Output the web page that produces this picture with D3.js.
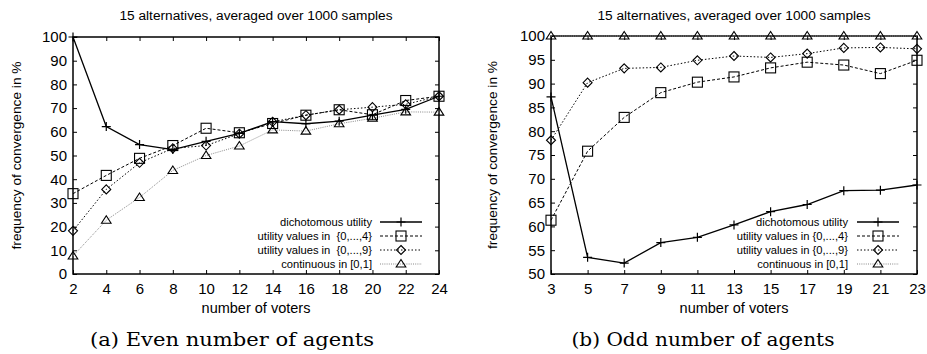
<!DOCTYPE html>
<html>
<head>
<meta charset="utf-8">
<script src="https://cdn.jsdelivr.net/npm/d3@7"></script>
<style>
  body { margin: 0; background: #fff; }
  svg { display: block; }
  .tick text { font-family: "Liberation Sans", Arial, sans-serif; }
</style>
</head>
<body>
<div id="chart"></div>
<script>
// ---- data ----
var evenVoters = [2, 4, 6, 8, 10, 12, 14, 16, 18, 20, 22, 24];
var evenDich  = [100, 62.2, 54.6, 52.5, 56, 59.3, 64.3, 63.4, 64.5, 67, 69.5, 75];
var evenUtil4 = [33.9, 41.6, 48.8, 54.2, 61.5, 59.6, 63.5, 67, 69.3, 67.2, 73.2, 75];
var evenUtil9 = [18.2, 35.7, 46.9, 53, 54.2, 59.2, 64.2, 67, 69.3, 70.4, 71.6, 75];
var evenCont  = [7.6, 22.7, 32.3, 43.7, 50, 54, 60.8, 60.3, 63.4, 65.7, 68.4, 68.3];

var oddVoters = [3, 5, 7, 9, 11, 13, 15, 17, 19, 21, 23];
var oddDich  = [87.2, 53.5, 52.3, 56.6, 57.7, 60.3, 63.1, 64.6, 67.5, 67.6, 68.7];
var oddUtil4 = [61.3, 75.8, 82.9, 88.1, 90.3, 91.4, 93.3, 94.5, 93.9, 92.1, 94.9];
var oddUtil9 = [78.1, 90.2, 93.2, 93.4, 94.9, 95.8, 95.5, 96.3, 97.5, 97.6, 97.3];
var oddCont  = [100, 100, 100, 100, 100, 100, 100, 100, 100, 100, 100];

var evenLegend = ["dichotomous utility", "utility values in  {0,...,4}", "utility values in  {0,...,9}", "continuous in [0,1]"];
var oddLegend  = ["dichotomous utility", "utility values in {0,...,4}", "utility values in {0,...,9}", "continuous in [0,1]"];

var title = "15 alternatives, averaged over 1000 samples";

var W = 927, H = 354;
var svg = d3.select("#chart").append("svg")
  .attr("width", W)
  .attr("height", H);

// line style + marker for each series
var styles = [
  { dash: null,    color: "#000", width: 1.3, marker: "plus" },
  { dash: "3,2",   color: "#000", width: 1,   marker: "square" },
  { dash: "1.5,2", color: "#000", width: 1,   marker: "diamond" },
  { dash: "1,1.2", color: "#888", width: 1,   marker: "triangle" }
];

function drawMarker(g, type, x, y) {
  if (type === "plus") {
    g.append("path").attr("d", "M" + (x - 4.5) + "," + y + "h9M" + x + "," + (y - 4.5) + "v9")
      .attr("stroke", "#000").attr("stroke-width", 1.2).attr("fill", "none");
  } else if (type === "square") {
    g.append("rect").attr("x", x - 5).attr("y", y - 5).attr("width", 10).attr("height", 10)
      .attr("stroke", "#000").attr("stroke-width", 1.1).attr("fill", "none");
  } else if (type === "diamond") {
    g.append("path").attr("d", "M" + x + "," + (y - 4.5) + "l4.5,4.5l-4.5,4.5l-4.5,-4.5z")
      .attr("stroke", "#000").attr("stroke-width", 1.1).attr("fill", "none");
  } else {
    g.append("path").attr("d", "M" + x + "," + (y - 4.5) + "l4.8,7.5h-9.6z")
      .attr("stroke", "#000").attr("stroke-width", 1.1).attr("fill", "none");
  }
}

function drawPanel(opt) {
  var g = svg.append("g");
  var x = d3.scaleLinear().domain(opt.xDomain).range([opt.left, opt.right]);
  var y = d3.scaleLinear().domain(opt.yDomain).range([opt.bottom, opt.top]);

  // title
  g.append("text")
    .attr("x", (opt.left + opt.right) / 2).attr("y", 20)
    .attr("text-anchor", "middle")
    .style("font-family", "Liberation Sans, Arial, sans-serif")
    .style("font-size", "13.7px")
    .text(title);

  // axes (ticks inward)
  var ax = function (axis) {
    return axis.tickSizeInner(-4).tickSizeOuter(0).tickPadding(6);
  };
  var gx = g.append("g").attr("transform", "translate(0," + opt.bottom + ")")
    .call(ax(d3.axisBottom(x).tickValues(opt.xTicks).tickFormat(d3.format("d"))));
  g.append("g").attr("transform", "translate(0," + opt.top + ")")
    .call(d3.axisTop(x).tickValues(opt.xTicks).tickSizeInner(-4).tickSizeOuter(0).tickFormat(""));
  var gy = g.append("g").attr("transform", "translate(" + opt.left + ",0)")
    .call(ax(d3.axisLeft(y).tickValues(opt.yTicks).tickFormat(d3.format("d"))));
  g.append("g").attr("transform", "translate(" + opt.right + ",0)")
    .call(d3.axisRight(y).tickValues(opt.yTicks).tickSizeInner(-4).tickSizeOuter(0).tickFormat(""));
  g.selectAll(".domain").remove();
  g.selectAll(".tick line").attr("stroke", "#000");
  gx.selectAll("text").style("font-size", "15px").attr("dy", "0.95em");
  gy.selectAll("text").style("font-size", "15px");

  // frame
  g.append("rect")
    .attr("x", opt.left).attr("y", opt.top)
    .attr("width", opt.right - opt.left).attr("height", opt.bottom - opt.top)
    .attr("fill", "none").attr("stroke", "#000").attr("stroke-width", 1.5);

  // axis labels
  g.append("text")
    .attr("x", (opt.left + opt.right) / 2).attr("y", 313)
    .attr("text-anchor", "middle")
    .style("font-family", "Liberation Sans, Arial, sans-serif")
    .style("font-size", "14.5px")
    .text("number of voters");
  g.append("text")
    .attr("transform", "translate(" + opt.ylabX + "," + ((opt.top + opt.bottom) / 2) + ") rotate(-90)")
    .attr("text-anchor", "middle")
    .style("font-family", "Liberation Sans, Arial, sans-serif")
    .style("font-size", "13.7px")
    .text("frequency of convergence in %");

  // series
  var line = d3.line()
    .x(function (d) { return x(d[0]); })
    .y(function (d) { return y(d[1]); });
  var order = [3, 2, 1, 0];
  order.forEach(function (i) {
    var s = styles[i];
    var pts = opt.xs.map(function (v, k) { return [v, opt.series[i][k]]; });
    g.append("path").datum(pts)
      .attr("d", line)
      .attr("fill", "none")
      .attr("stroke", s.color)
      .attr("stroke-width", s.width)
      .attr("stroke-dasharray", s.dash);
    pts.forEach(function (p) { drawMarker(g, s.marker, x(p[0]), y(p[1])); });
  });

  // legend
  var rows = [222, 236, 250, 264];
  opt.legend.forEach(function (txt, i) {
    var s = styles[i];
    g.append("text")
      .attr("x", opt.legTextX).attr("y", rows[i]).attr("dy", "0.35em")
      .attr("text-anchor", "end")
      .style("font-family", "Liberation Sans, Arial, sans-serif")
      .style("font-size", "11.2px")
      .style("white-space", "pre")
      .text(txt);
    g.append("line")
      .attr("x1", opt.legLine[0]).attr("x2", opt.legLine[1])
      .attr("y1", rows[i]).attr("y2", rows[i])
      .attr("stroke", s.color).attr("stroke-width", s.width)
      .attr("stroke-dasharray", s.dash);
    drawMarker(g, s.marker, (opt.legLine[0] + opt.legLine[1]) / 2, rows[i]);
  });

  // caption
  g.append("text")
    .attr("x", opt.capX).attr("y", 346)
    .attr("text-anchor", "middle")
    .attr("textLength", opt.capW)
    .attr("lengthAdjust", "spacingAndGlyphs")
    .style("font-family", "DejaVu Serif, serif")
    .style("font-size", "19px")
    .style("font-weight", "300")
    .text(opt.caption);
}

drawPanel({
  left: 73, right: 439, top: 37, bottom: 274,
  xDomain: [2, 24], yDomain: [0, 100],
  xTicks: evenVoters, yTicks: d3.range(0, 101, 10),
  xs: evenVoters,
  series: [evenDich, evenUtil4, evenUtil9, evenCont],
  legend: evenLegend, legTextX: 372, legLine: [380, 422],
  ylabX: 21,
  caption: "(a) Even number of agents", capX: 232, capW: 284
});

drawPanel({
  left: 551, right: 917, top: 36, bottom: 274,
  xDomain: [3, 23], yDomain: [50, 100],
  xTicks: oddVoters, yTicks: d3.range(50, 101, 5),
  xs: oddVoters,
  series: [oddDich, oddUtil4, oddUtil9, oddCont],
  legend: oddLegend, legTextX: 848, legLine: [857, 899],
  ylabX: 497,
  caption: "(b) Odd number of agents", capX: 703, capW: 263
});
</script>
</body>
</html>
